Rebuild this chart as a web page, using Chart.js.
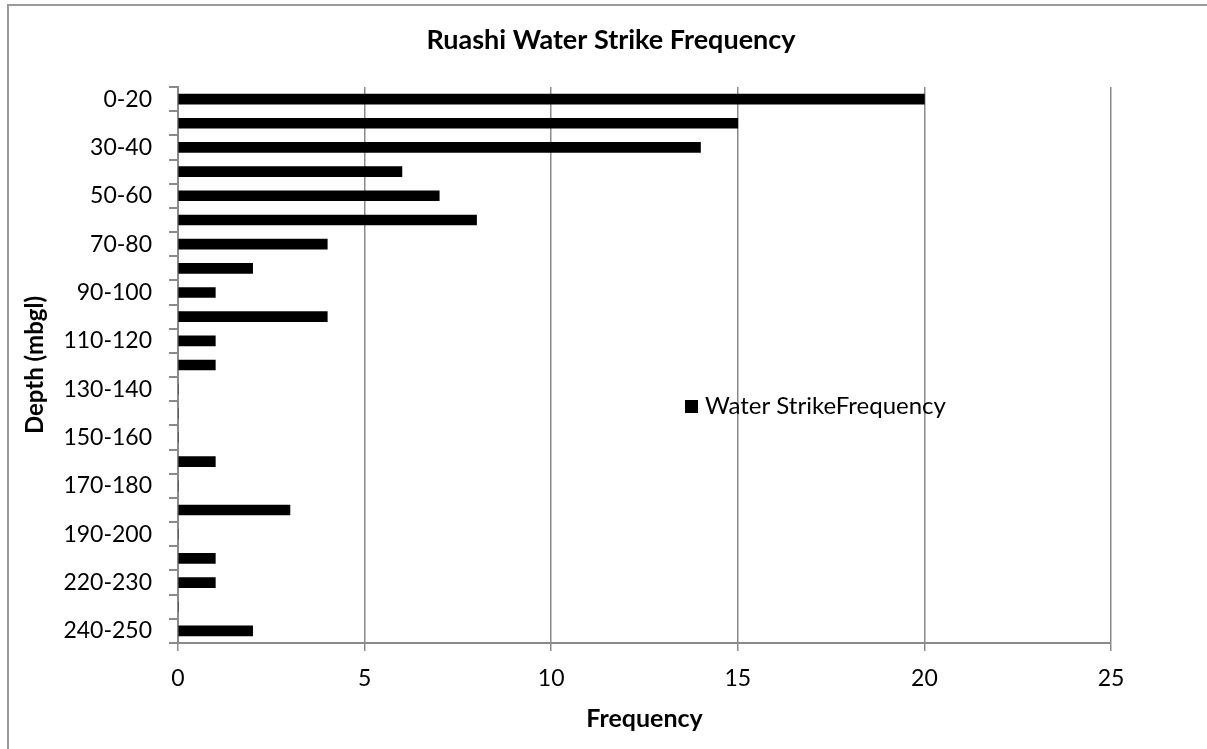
<!DOCTYPE html>
<html>
<head>
<meta charset="utf-8">
<title>Ruashi Water Strike Frequency</title>
<script src="https://cdn.jsdelivr.net/npm/chart.js@4.4.1/dist/chart.umd.min.js"></script>
<style>
  html, body { margin: 0; padding: 0; overflow: hidden; background: #fff; }
  canvas { display: block; }
</style>
</head>
<body>
<canvas id="chart" width="1207" height="749"></canvas>
<script>
// Depth intervals (metres below ground level), top to bottom
const depthBins = [
  '0-20', '20-30', '30-40', '40-50', '50-60', '60-70', '70-80', '80-90',
  '90-100', '100-110', '110-120', '120-130', '130-140', '140-150', '150-160',
  '160-170', '170-180', '180-190', '190-200', '200-220', '220-230', '230-240', '240-250'
];

// Number of water strikes recorded in each interval
const strikeCounts = [
  20, 15, 14, 6, 7, 8, 4, 2,
  1, 4, 1, 1, 0, 0, 0,
  1, 0, 3, 0, 1, 1, 0, 2
];

// Frequency axis tick values
const frequencyTicks = [0, 5, 10, 15, 20, 25];

const seriesName = 'Water StrikeFrequency';

const AXIS_GREY = '#8a8a8a';
const FRAME_GREY = '#9a9a9a';
const FONT = 'Lato';

// Outer chart frame: only its top and left edges fall inside the page
const chartFrame = {
  id: 'chartFrame',
  beforeDraw(chart, args, opts) {
    const { ctx, width, height } = chart;
    ctx.save();
    ctx.strokeStyle = opts.color;
    ctx.lineWidth = opts.lineWidth;
    ctx.beginPath();
    ctx.moveTo(opts.x, height);
    ctx.lineTo(opts.x, opts.y);
    ctx.lineTo(width, opts.y);
    ctx.stroke();
    ctx.restore();
  }
};

// Legend drawn as a single entry floating inside the plot area
const insideLegend = {
  id: 'insideLegend',
  afterDatasetsDraw(chart, args, opts) {
    const { ctx, chartArea } = chart;
    const ds = chart.data.datasets[0];
    const x = chartArea.left + opts.offsetX;
    const y = chartArea.top + opts.offsetY;
    ctx.save();
    ctx.fillStyle = ds.backgroundColor;
    ctx.fillRect(x, y - opts.boxSize / 2, opts.boxSize, opts.boxSize);
    ctx.font = opts.font;
    ctx.fillStyle = opts.color;
    ctx.textAlign = 'left';
    ctx.textBaseline = 'middle';
    ctx.fillText(ds.label, x + opts.boxSize + opts.gap, y);
    ctx.restore();
  }
};

function build() {
  new Chart(document.getElementById('chart'), {
    type: 'bar',
    data: {
      labels: depthBins,
      datasets: [{
        label: seriesName,
        data: strikeCounts,
        backgroundColor: '#000000',
        borderWidth: 0,
        barThickness: 10
      }]
    },
    options: {
      indexAxis: 'y',
      responsive: false,
      animation: false,
      layout: { padding: { top: 0, left: 15, right: 0, bottom: 0 } },
      scales: {
        y: {
          type: 'category',
          offset: true,
          afterFit(scale) { scale.width = 163; },
          grid: {
            offset: true,
            drawOnChartArea: false,
            drawTicks: true,
            tickLength: 9,
            color: AXIS_GREY,
            lineWidth: 2
          },
          border: { display: true, color: AXIS_GREY, width: 2 },
          ticks: {
            autoSkip: false,
            padding: 17,
            color: '#000',
            font: { family: FONT, size: 23 },
            callback(value, index) {
              return index % 2 === 0 ? this.getLabelForValue(value) : '';
            }
          },
          title: {
            display: true,
            text: 'Depth (mbgl)',
            color: '#000',
            font: { family: FONT, size: 24, weight: 'bold', lineHeight: 1.2 },
            padding: { top: 6, bottom: 0 }
          }
        },
        // empty right-hand gutter between the plot and the frame edge
        gutter: {
          type: 'linear',
          position: 'right',
          display: true,
          afterFit(scale) { scale.width = 96; },
          grid: { display: false },
          border: { display: false },
          ticks: { display: false }
        },
        x: {
          type: 'linear',
          min: 0,
          max: 25,
          afterFit(scale) { scale.height = 106; },
          afterBuildTicks(scale) { scale.ticks = frequencyTicks.map(v => ({ value: v })); },
          grid: {
            drawOnChartArea: true,
            drawTicks: true,
            tickLength: 8,
            color: AXIS_GREY,
            lineWidth: 1.5
          },
          border: { display: true, color: AXIS_GREY, width: 2 },
          ticks: {
            padding: 14,
            color: '#000',
            font: { family: FONT, size: 23 },
            maxRotation: 0
          },
          title: {
            display: true,
            text: 'Frequency',
            color: '#000',
            font: { family: FONT, size: 25, weight: 'bold', lineHeight: 1.2 },
            padding: { top: 0, bottom: 15 }
          }
        }
      },
      plugins: {
        legend: { display: false },
        tooltip: { enabled: false },
        title: {
          display: true,
          text: 'Ruashi Water Strike Frequency',
          color: '#000',
          font: { family: FONT, size: 27, weight: 'bold', lineHeight: 1.2 },
          padding: { top: 24, bottom: 30.6 }
        },
        chartFrame: { x: 8, y: 5, color: FRAME_GREY, lineWidth: 2 },
        insideLegend: {
          offsetX: 507,
          offsetY: 319.5,
          boxSize: 13,
          gap: 7,
          font: '24px ' + FONT,
          color: '#000'
        }
      }
    },
    plugins: [chartFrame, insideLegend]
  });
}

Promise.all([
  document.fonts.load('23px ' + FONT),
  document.fonts.load('bold 25px ' + FONT)
]).catch(() => {}).then(build);
</script>
</body>
</html>
